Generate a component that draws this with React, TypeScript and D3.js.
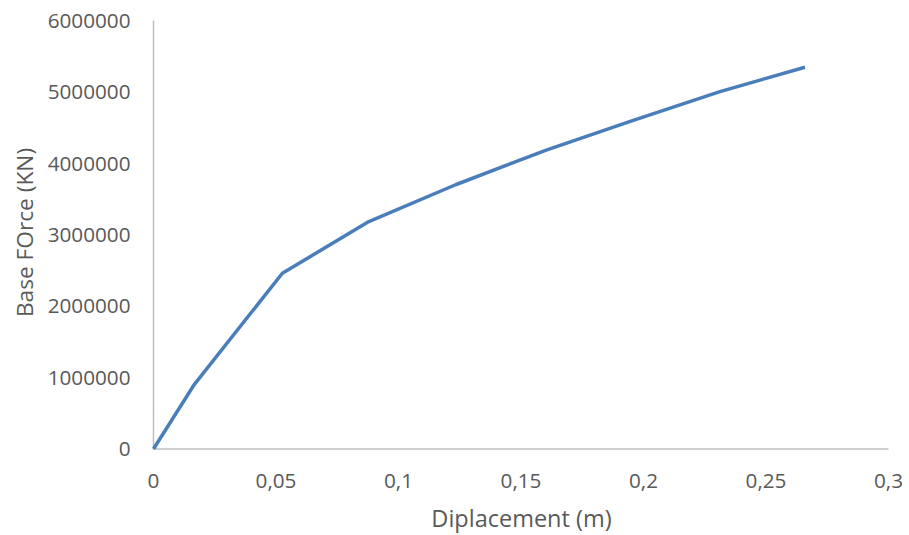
import React from "react";
import * as d3 from "d3";

const displacement = [0, 0.0167, 0.0526, 0.0879, 0.1233, 0.1603, 0.1952, 0.2312, 0.2659];
const baseForce = [0, 906000, 2461000, 3184000, 3700000, 4185000, 4594000, 5004000, 5346000];
const xTicks = [0, 0.05, 0.1, 0.15, 0.2, 0.25, 0.3];
const yTicks = [0, 1000000, 2000000, 3000000, 4000000, 5000000, 6000000];

const W = 909, H = 535;
const left = 153.5, right = 888.5, top = 20.5, bottom = 449;

export default function App() {
  const x = d3.scaleLinear().domain([0, 0.3]).range([left, right]);
  const y = d3.scaleLinear().domain([0, 6000000]).range([bottom, top]);
  const pts = displacement.map((d, i) => [d, baseForce[i]] as [number, number]);
  const line = d3.line<[number, number]>().x(d => x(d[0])).y(d => y(d[1]));
  const font = "'Open Sans', 'Liberation Sans', sans-serif";
  const fmtX = (v: number) => String(v).replace(".", ",");
  return (
    <svg width={W} height={H} style={{ position: "absolute", left: 0, top: 0, background: "#fff" }}>
      <line x1={left} x2={left} y1={top} y2={bottom} stroke="#BFBFBF" strokeWidth={1.5} />
      <line x1={left} x2={right} y1={bottom} y2={bottom} stroke="#BFBFBF" strokeWidth={1.5} />
      {yTicks.map(t => (
        <text key={t} x={130.5} y={y(t)} dy="0.35em" textAnchor="end" fontFamily={font} fontSize={20.7} fill="#595959">{t}</text>
      ))}
      {xTicks.map(t => (
        <text key={t} x={x(t)} y={481} dy="0.35em" textAnchor="middle" fontFamily={font} fontSize={20.7} fill="#595959">{fmtX(t)}</text>
      ))}
      <path d={line(pts) || ""} fill="none" stroke="#4A7EBB" strokeWidth={3.5} strokeLinejoin="round" />
      <text x={521.5} y={519} dy="0.35em" textAnchor="middle" fontFamily={font} fontSize={23.5} fill="#595959">Diplacement (m)</text>
      <text transform={`translate(25.5,232.5) rotate(-90)`} dy="0.35em" textAnchor="middle" fontFamily={font} fontSize={22.7} fill="#595959">Base FOrce (KN)</text>
    </svg>
  );
}
